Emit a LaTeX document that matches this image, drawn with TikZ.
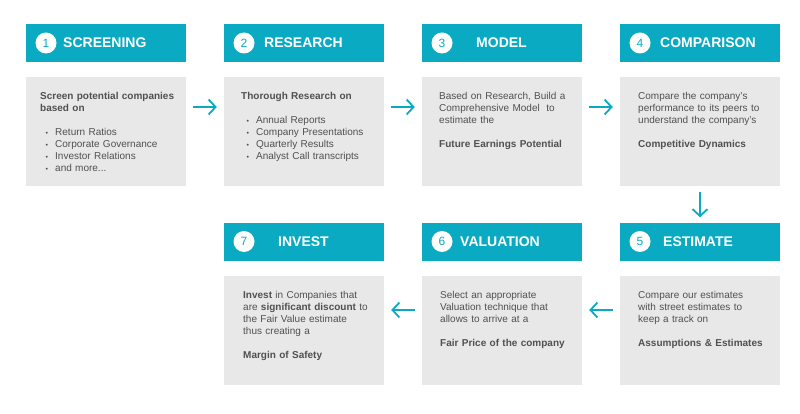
\documentclass[tikz,border=0pt]{standalone}
\usepackage{fontspec}
\setmainfont{Liberation Sans}
\usetikzlibrary{arrows.meta}
\definecolor{teal}{RGB}{11,170,195}
\definecolor{boxgray}{RGB}{232,232,232}
\definecolor{txtgray}{RGB}{80,80,80}
\newcommand{\bul}[1]{\makebox[15pt][l]{\hspace{5.5pt}{\scriptsize\textbullet}}#1}
\tikzset{
  head/.style={fill=teal,minimum width=160pt,minimum height=38pt,inner sep=0pt},
  body/.style={fill=boxgray,minimum width=160pt,minimum height=109pt,inner sep=0pt},
  num/.style={circle,fill=white,text=teal,minimum size=21pt,inner sep=0pt,font=\fontsize{12}{12}\selectfont},
  title/.style={anchor=west,inner sep=0pt,text=white,font=\fontsize{14}{14}\selectfont\bfseries},
  txt/.style={anchor=north west,inner sep=0pt,text width=148pt,align=left,text=txtgray,font=\fontsize{10}{12}\selectfont},
  flow/.style={draw=teal,line width=1.8pt,-{Straight Barb[length=7pt,width=15pt]},shorten <=7pt,shorten >=7pt}
}
\begin{document}
\begin{tikzpicture}[x=1pt,y=-1pt]
  \useasboundingbox (0,0) rectangle (800,414);
  \node[head] (h1) at (106,43) {};
  \node[head] (h2) at (304,43) {};
  \node[head] (h3) at (502,43) {};
  \node[head] (h4) at (700,43) {};
  \node[head] (h5) at (700,241.5) {};
  \node[head] (h6) at (502,241.5) {};
  \node[head] (h7) at (304,241.5) {};
  \node[body] (b1) at (106,131.5) {};
  \node[body] (b2) at (304,131.5) {};
  \node[body] (b3) at (502,131.5) {};
  \node[body] (b4) at (700,131.5) {};
  \node[body] (b5) at (700,330) {};
  \node[body] (b6) at (502,330) {};
  \node[body] (b7) at (304,330) {};
  \node[num] (n1) at (46,43) {1};
  \node[num] (n2) at (244,43) {2};
  \node[num] (n3) at (442,43) {3};
  \node[num] (n4) at (640,43) {4};
  \node[num] (n5) at (640,241.5) {5};
  \node[num] (n6) at (442,241.5) {6};
  \node[num] (n7) at (244,241.5) {7};
  \node[title] (t1) at (63,43) {SCREENING};
  \node[title] (t2) at (264,43) {RESEARCH};
  \node[title] (t3) at (476,43) {MODEL};
  \node[title] (t4) at (660,43) {COMPARISON};
  \node[title] (t5) at (663,241.5) {ESTIMATE};
  \node[title] (t6) at (460,241.5) {VALUATION};
  \node[title] (t7) at (278,241.5) {INVEST};
  \node[txt] (d1) at (40,92) {\textbf{Screen potential companies}\\\textbf{based on}\\[12pt]
    \bul{Return Ratios}\\\bul{Corporate Governance}\\\bul{Investor Relations}\\\bul{and more...}};
  \node[txt] (d2) at (241,92) {\textbf{Thorough Research on}\\[12pt]
    \bul{Annual Reports}\\\bul{Company Presentations}\\\bul{Quarterly Results}\\\bul{Analyst Call transcripts}};
  \node[txt] (d3) at (439,92) {Based on Research, Build a\\Comprehensive Model\ \ to\\estimate the\\[12pt]
    \textbf{Future Earnings Potential}};
  \node[txt] (d4) at (638,92) {Compare the company’s\\performance to its peers to\\understand the company’s\\[12pt]
    \textbf{Competitive Dynamics}};
  \node[txt] (d5) at (638,291) {Compare our estimates\\with street estimates to\\keep a track on\\[12pt]
    \textbf{Assumptions \& Estimates}};
  \node[txt] (d6) at (440,291) {Select an appropriate\\Valuation technique that\\allows to arrive at a\\[12pt]
    \textbf{Fair Price of the company}};
  \node[txt] (d7) at (243,291) {\textbf{Invest} in Companies that\\are \textbf{significant discount} to\\the Fair Value estimate\\thus creating a\\[12pt]
    \textbf{Margin of Safety}};
  \draw[flow] ([yshift=24.5pt]b1.east) -- ([yshift=24.5pt]b2.west);
  \draw[flow] ([yshift=24.5pt]b2.east) -- ([yshift=24.5pt]b3.west);
  \draw[flow] ([yshift=24.5pt]b3.east) -- ([yshift=24.5pt]b4.west);
  \draw[flow,shorten <=6pt,shorten >=5pt] (b4.south) -- (h5.north);
  \draw[flow] ([yshift=20pt]b5.west) -- ([yshift=20pt]b6.east);
  \draw[flow] ([yshift=20pt]b6.west) -- ([yshift=20pt]b7.east);
\end{tikzpicture}
\end{document}
